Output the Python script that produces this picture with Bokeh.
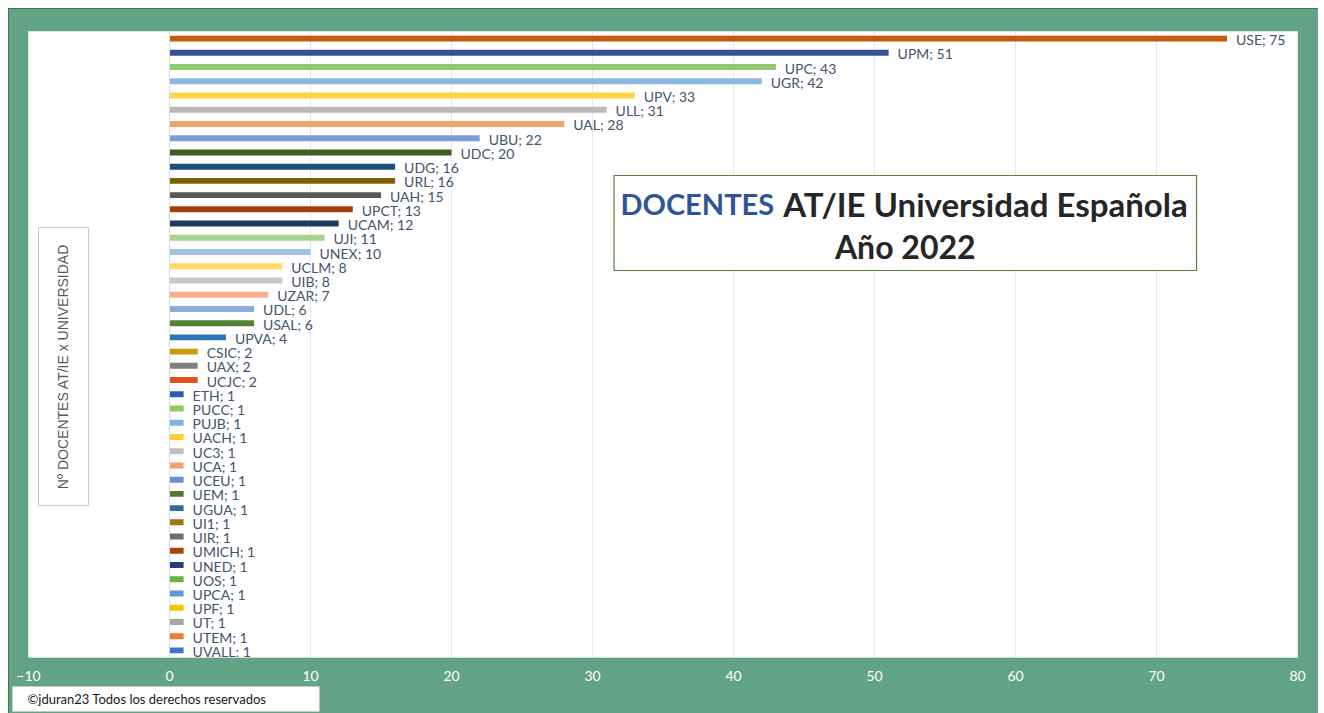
from bokeh.plotting import figure
from bokeh.models import Range1d, FixedTicker, Label, BoxAnnotation, Span, ColumnDataSource, Title
from bokeh.core.properties import value
from bokeh.embed import file_html
from bokeh.resources import INLINE

universities = ["USE", "UPM", "UPC", "UGR", "UPV", "ULL", "UAL", "UBU", "UDC", "UDG",
                "URL", "UAH", "UPCT", "UCAM", "UJI", "UNEX", "UCLM", "UIB", "UZAR", "UDL",
                "USAL", "UPVA", "CSIC", "UAX", "UCJC", "ETH", "PUCC", "PUJB", "UACH", "UC3",
                "UCA", "UCEU", "UEM", "UGUA", "UI1", "UIR", "UMICH", "UNED", "UOS", "UPCA",
                "UPF", "UT", "UTEM", "UVALL"]
docentes = [75, 51, 43, 42, 33, 31, 28, 22, 20, 16,
            16, 15, 13, 12, 11, 10, 8, 8, 7, 6,
            6, 4, 2, 2, 2, 1, 1, 1, 1, 1,
            1, 1, 1, 1, 1, 1, 1, 1, 1, 1,
            1, 1, 1, 1]
bar_colors = ["#C55A11", "#2F5597", "#92C86E", "#8DB8E3", "#FFD445", "#B9B9B9", "#F4A36E", "#7A9EDC", "#3F5F22", "#1F4E79",
              "#7F6000", "#595959", "#A5400E", "#203864", "#A9D18E", "#9DC3E6", "#FFD966", "#C9C9C9", "#F8B08A", "#8FAADC",
              "#548235", "#2E75B6", "#C99A0A", "#7F7F7F", "#E0541A", "#2F5AA8", "#8CCB5E", "#7FB2E5", "#FFCC33", "#BFBFBF",
              "#F4A070", "#6A8FD8", "#4E7A2F", "#2E6DA4", "#9C7A10", "#6E6E6E", "#A6450F", "#223F7A", "#6DB33F", "#5B9BD5",
              "#FFC000", "#A5A5A5", "#ED7D31", "#4472C4"]
x_ticks = [-10, 0, 10, 20, 30, 40, 50, 60, 70, 80]

GREEN = "#62A287"
n = len(universities)
ypos = [i + 0.5 for i in range(n)]
labels = [f"{u}; {v}" for u, v in zip(universities, docentes)]
src = ColumnDataSource(dict(y=ypos, v=docentes, c=bar_colors, lbl=labels))

p = figure(width=1310, height=705, output_backend="svg", toolbar_location=None,
           x_range=Range1d(-10, 80), y_range=Range1d(n, 0),
           min_border_left=20, min_border_right=21, min_border_top=23, min_border_bottom=56,
           background_fill_color="white", border_fill_color=GREEN, outline_line_color=None)
p.styles = {"margin-left": "8px", "margin-top": "8px",
            "outline": "2px solid #3E6424", "outline-offset": "-2px"}

p.yaxis.visible = False
p.ygrid.visible = False
p.xaxis.ticker = FixedTicker(ticks=x_ticks)
p.xaxis.axis_line_color = "#D3D9E0"
p.xaxis.major_tick_line_color = None
p.xaxis.minor_tick_line_color = None
p.xaxis.major_tick_out = 0
p.xaxis.major_tick_in = 0
p.xaxis.major_label_standoff = 13
p.xaxis.major_label_text_color = "white"
p.xaxis.major_label_text_font = "Lato"
p.xaxis.major_label_text_font_size = "14px"
p.xgrid.ticker = FixedTicker(ticks=[t for t in x_ticks if t > 0])
p.xgrid.grid_line_color = "#E3E7EE"
p.xgrid.grid_line_width = 1
p.add_layout(Span(location=0, dimension="height", line_color="#D6DCE4", line_width=1))

p.hbar(y="y", left=0, right="v", height=0.42, fill_color="c", line_color=None, source=src)
p.text(x="v", y="y", text="lbl", x_offset=9, y_offset=1, text_baseline="middle", text_align="left",
       text_font=value("Lato"), text_font_size="14px", text_color="#44546A", source=src)

# title box
p.add_layout(BoxAnnotation(left=31.53, right=72.84, top=10.12, bottom=16.80,
                           fill_color="white", fill_alpha=1, line_color="#5A7D40", line_width=1.2,
                           line_alpha=1))
p.add_layout(Label(x=42.88, y=12.1, text="DOCENTES", text_align="right", text_baseline="middle",
                   text_font="Lato", text_font_style="bold", text_font_size="29px", text_color="#2F5597"))
p.add_layout(Label(x=43.52, y=12.1, text="AT/IE Universidad Española", text_align="left", text_baseline="middle",
                   text_font="Lato", text_font_style="bold", text_font_size="33px", text_color="#262626"))
p.add_layout(Label(x=52.18, y=15.1, text="Año 2022", text_align="center", text_baseline="middle",
                   text_font="Lato", text_font_style="bold", text_font_size="32px", text_color="#262626"))

# y-axis title box
p.add_layout(BoxAnnotation(left=-9.29, right=-5.74, top=13.78, bottom=33.32,
                           fill_color="white", fill_alpha=1, line_color="#C8C8C8", line_width=1, line_alpha=1))
p.add_layout(Label(x=-7.52, y=23.55, text="Nº DOCENTES AT/IE x UNIVERSIDAD", angle=1.5708,
                   text_align="center", text_baseline="middle",
                   text_font="Liberation Sans", text_font_size="14px", text_color="#595959"))

# footer (below the axis)
footer = Title(text="©jduran23 Todos los derechos reservados", align="left",
               text_font="Lato", text_font_size="13px", text_font_style="normal", text_color="#1A1A1A",
               background_fill_color="white", border_line_color="#C8C8C8",
               padding=dict(left=15, right=53, top=4, bottom=5), offset=-16, standoff=2)
p.add_layout(footer, "below")

open("out.html", "w").write(file_html(p, INLINE))
